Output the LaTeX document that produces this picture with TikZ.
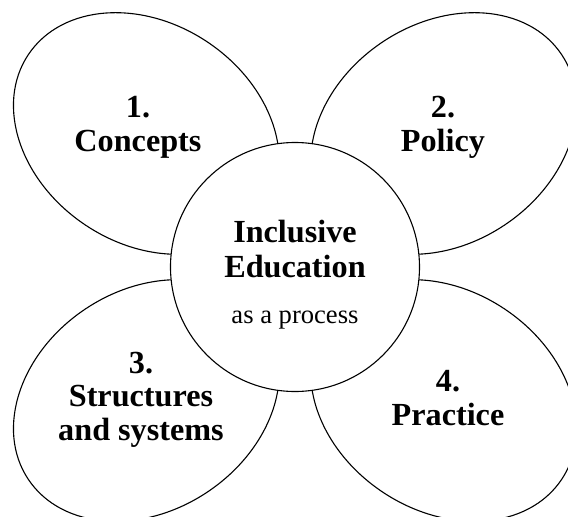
\documentclass[tikz,border=0pt]{standalone}
\usepackage{fontspec}
\setmainfont{Liberation Serif}
\begin{document}
\begin{tikzpicture}[x=1pt,y=1pt,
  petal/.style={draw=black, line width=1.1pt, fill=white},
  hub/.style={circle, draw=black, line width=1.1pt, fill=white, minimum size=249pt, inner sep=0pt},
  bigtext/.style={anchor=base, inner sep=0pt, font=\fontsize{32.2}{34}\selectfont\bfseries},
  smalltext/.style={anchor=base, inner sep=0pt, font=\fontsize{26.6}{30}\selectfont}]
\useasboundingbox (-295,-250) rectangle (273,267);
\clip (-295,-250) rectangle (273,267);
\fill[white] (-295,-250) rectangle (273,267);
\foreach \sx/\sy in {1/1,-1/1,1/-1,-1/-1}{
  \begin{scope}[xscale=\sx, yscale=\sy]
    \draw[petal, rotate around={146.2:(-148.6,133.5)}] (-148.6,133.5) ellipse [x radius=142, y radius=110];
  \end{scope}
}
\node[hub] (hub) at (0,0) {};
\node[bigtext] (incl) at (0,24) {Inclusive};
\node[bigtext] (educ) at (0,-10) {Education};
\node[smalltext] (proc) at (0,-56) {as a process};
\node[bigtext] (n1) at (-157,149.5) {1.};
\node[bigtext] (l1) at (-157,115.5) {Concepts};
\node[bigtext] (n2) at (148,149) {2.};
\node[bigtext] (l2) at (148,115) {Policy};
\node[bigtext] (n3) at (-154,-106.3) {3.};
\node[bigtext] (l3a) at (-154,-139.7) {Structures};
\node[bigtext] (l3b) at (-154,-173) {and systems};
\node[bigtext] (n4) at (153,-124.7) {4.};
\node[bigtext] (l4) at (153,-158) {Practice};
\end{tikzpicture}
\end{document}
